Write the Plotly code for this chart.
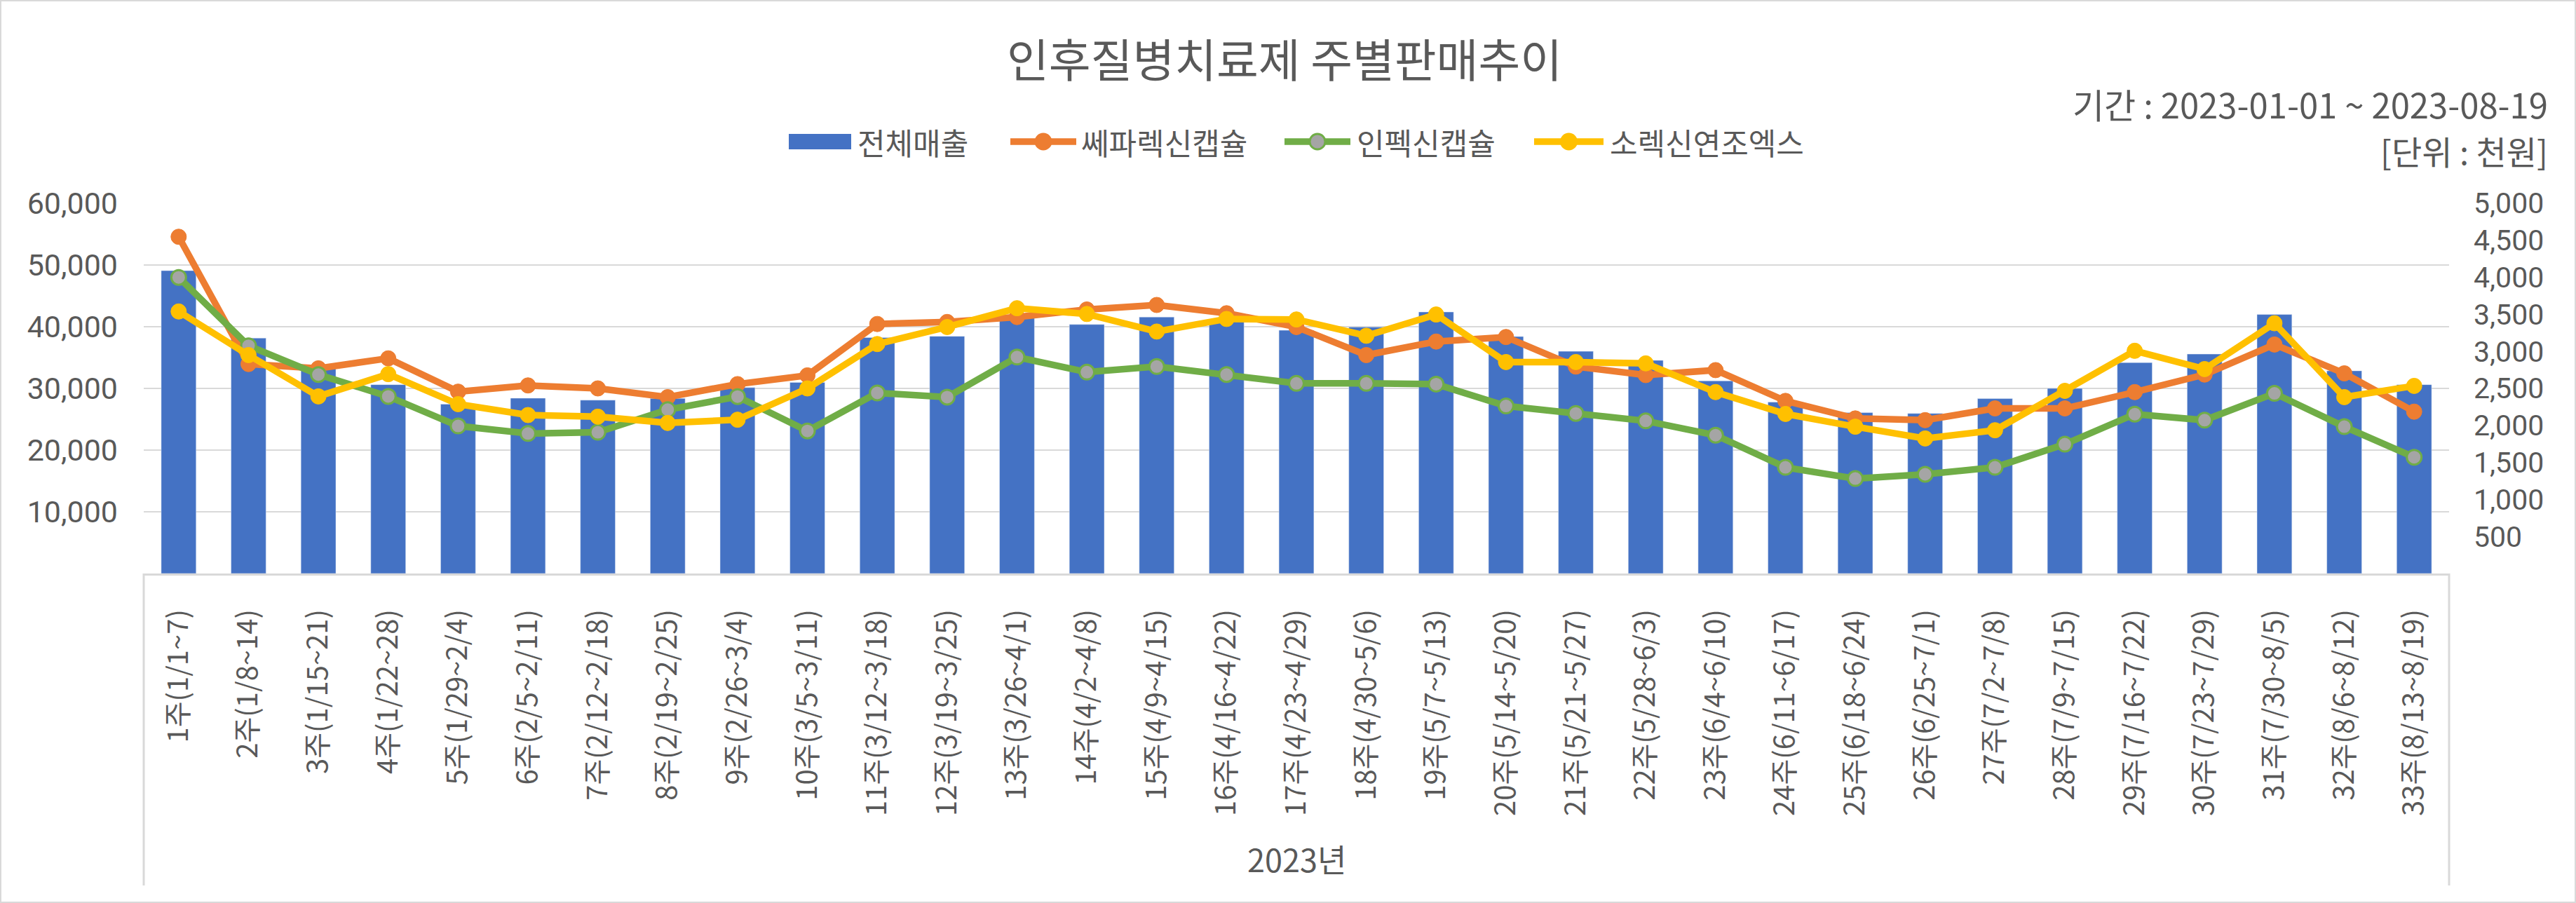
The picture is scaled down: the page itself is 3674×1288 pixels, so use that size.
import plotly.graph_objects as go

weeks = ["1주(1/1~7)", "2주(1/8~14)", "3주(1/15~21)", "4주(1/22~28)", "5주(1/29~2/4)",
         "6주(2/5~2/11)", "7주(2/12~2/18)", "8주(2/19~2/25)", "9주(2/26~3/4)", "10주(3/5~3/11)",
         "11주(3/12~3/18)", "12주(3/19~3/25)", "13주(3/26~4/1)", "14주(4/2~4/8)", "15주(4/9~4/15)",
         "16주(4/16~4/22)", "17주(4/23~4/29)", "18주(4/30~5/6)", "19주(5/7~5/13)", "20주(5/14~5/20)",
         "21주(5/21~5/27)", "22주(5/28~6/3)", "23주(6/4~6/10)", "24주(6/11~6/17)", "25주(6/18~6/24)",
         "26주(6/25~7/1)", "27주(7/2~7/8)", "28주(7/9~7/15)", "29주(7/16~7/22)", "30주(7/23~7/29)",
         "31주(7/30~8/5)", "32주(8/6~8/12)", "33주(8/13~8/19)"]

total_sales = [49090, 38160, 33170, 30610, 27450, 28420, 28100, 28380, 30130, 30980,
               38250, 38450, 41620, 40360, 41570, 41000, 39420, 39950, 42390, 38410,
               36010, 34550, 31220, 27770, 26070, 25940, 28340, 30000, 34190, 35570,
               41980, 32850, 30610]

cephalexin = [4548, 2829, 2771, 2906, 2456, 2540, 2500, 2382, 2558, 2676,
              3370, 3397, 3464, 3566, 3627, 3515, 3329, 2950, 3133, 3194,
              2795, 2680, 2747, 2331, 2094, 2071, 2230, 2230, 2450, 2687,
              3093, 2703, 2186]

infexin = [3999, 3076, 2687, 2392, 1993, 1891, 1908, 2213, 2389, 1925,
           2439, 2382, 2923, 2720, 2795, 2687, 2568, 2568, 2558, 2263,
           2162, 2061, 1868, 1434, 1282, 1340, 1434, 1746, 2152, 2071,
           2433, 1983, 1570]

sorexin = [3539, 2950, 2392, 2693, 2287, 2140, 2118, 2033, 2077, 2500,
           3099, 3329, 3583, 3505, 3268, 3438, 3431, 3211, 3498, 2856,
           2856, 2838, 2450, 2155, 1983, 1824, 1935, 2467, 3008, 2761,
           3380, 2382, 2534]

series_names = ["전체매출", "쎄파렉신캡슐", "인펙신캡슐", "소렉신연조엑스"]
left_ticks = [10000, 20000, 30000, 40000, 50000, 60000]
right_ticks = [500, 1000, 1500, 2000, 2500, 3000, 3500, 4000, 4500, 5000]

FONT = "Noto Sans CJK KR"
NUMFONT = "Roboto"
GRAY = "#595959"
GRID = "#D9D9D9"
BLUE, ORANGE, GREEN, YELLOW, MGRAY = "#4472C4", "#ED7D31", "#70AD47", "#FFC000", "#A5A5A5"

W, H = 3674, 1288
L, R, T, B = 205, 181, 290, 470
PW, PH = W - L - R, H - T - B


def px(xpix):
    return (xpix - L) / PW


def py(ypix):
    return (H - B - ypix) / PH


fig = go.Figure()
fig.add_trace(go.Bar(x=weeks, y=total_sales, name=series_names[0], marker_color=BLUE,
                     yaxis="y", showlegend=False))
fig.add_trace(go.Scatter(x=weeks, y=cephalexin, name=series_names[1], mode="lines+markers",
                         line=dict(color=ORANGE, width=9.5),
                         marker=dict(size=22, color=ORANGE, line=dict(color=ORANGE, width=1)),
                         yaxis="y2", showlegend=False))
fig.add_trace(go.Scatter(x=weeks, y=infexin, name=series_names[2], mode="lines+markers",
                         line=dict(color=GREEN, width=9.5),
                         marker=dict(size=21, color=MGRAY, line=dict(color=GREEN, width=3)),
                         yaxis="y2", showlegend=False))
fig.add_trace(go.Scatter(x=weeks, y=sorexin, name=series_names[3], mode="lines+markers",
                         line=dict(color=YELLOW, width=9.5),
                         marker=dict(size=22, color=YELLOW, line=dict(color=YELLOW, width=1)),
                         yaxis="y2", showlegend=False))

fig.update_layout(
    width=W, height=H,
    margin=dict(l=L, r=R, t=T, b=B, autoexpand=False),
    paper_bgcolor="white", plot_bgcolor="white",
    font=dict(family=FONT, color=GRAY, size=43),
    bargap=0.5,
    showlegend=False,
    title=dict(text="인후질병치료제 주별판매추이", x=1832 / W, xanchor="center",
               y=1 - 87 / H, yanchor="middle", font=dict(size=65, color=GRAY, family=FONT)),
    xaxis=dict(type="category", range=[-0.5, len(weeks) - 0.5], tickangle=-90,
               tickfont=dict(size=40, color=GRAY),
               showline=True, linecolor=GRID, linewidth=3, showgrid=False,
               ticks="", ticklabelstandoff=32, automargin=False),
    yaxis=dict(range=[0, 60000], tickvals=left_ticks, tickformat=",",
               showgrid=True, gridcolor=GRID, gridwidth=2, zeroline=False,
               tickfont=dict(size=43, color=GRAY, family=NUMFONT), ticks="",
               ticklabelstandoff=36, automargin=False),
    yaxis2=dict(range=[0, 5000], tickvals=right_ticks, tickformat=",", overlaying="y",
                side="right", showgrid=False, zeroline=False,
                tickfont=dict(size=41, color=GRAY, family=NUMFONT), ticks="",
                ticklabelstandoff=34, automargin=False),
)

fig.add_annotation(text="기간 : 2023-01-01 ~ 2023-08-19", xref="paper", yref="paper",
                   x=px(3636), y=py(147), xanchor="right", yanchor="middle",
                   showarrow=False, font=dict(size=49, color=GRAY, family=FONT))
fig.add_annotation(text="[단위 : 천원]", xref="paper", yref="paper",
                   x=px(3636), y=py(215), xanchor="right", yanchor="middle",
                   showarrow=False, font=dict(size=47, color=GRAY, family=FONT))
fig.add_annotation(text="2023년", xref="paper", yref="paper",
                   x=0.5, y=py(1224), xanchor="center", yanchor="middle",
                   showarrow=False, font=dict(size=45, color=GRAY, family=FONT))

# custom legend (Excel-like wide keys)
LEG_Y = py(202)
fig.add_shape(type="rect", xref="paper", yref="paper", x0=px(1125), x1=px(1214),
              y0=py(213), y1=py(191), line=dict(width=0), fillcolor=BLUE)
leg_lines = [(1441, 1535, ORANGE, ORANGE), (1832, 1926, GREEN, MGRAY), (2188, 2287, YELLOW, YELLOW)]
for x0, x1, lc, fc in leg_lines:
    fig.add_shape(type="line", xref="paper", yref="paper", x0=px(x0), x1=px(x1),
                  y0=LEG_Y, y1=LEG_Y, line=dict(color=lc, width=9.5))
    cx = (x0 + x1) / 2
    fig.add_shape(type="circle", xref="paper", yref="paper", x0=px(cx - 11), x1=px(cx + 11),
                  y0=py(202 + 11), y1=py(202 - 11), line=dict(color=lc, width=3), fillcolor=fc)
for name, xt in zip(series_names, [1221, 1540, 1933, 2294]):
    fig.add_annotation(text=name, xref="paper", yref="paper", x=px(xt), y=LEG_Y,
                       xanchor="left", yanchor="middle", showarrow=False,
                       font=dict(size=43, color=GRAY, family=FONT))

# category axis box
for xv in (0, 1):
    fig.add_shape(type="line", xref="paper", yref="paper", x0=xv, x1=xv,
                  y0=0, y1=py(1263), line=dict(color=GRID, width=3))
# chart border
fig.add_shape(type="rect", xref="paper", yref="paper",
              x0=px(1), x1=px(W - 1), y0=py(H - 1), y1=py(1),
              line=dict(color=GRID, width=2), fillcolor="rgba(0,0,0,0)")

fig.write_html("out.html", config={"displayModeBar": False},
               post_script="document.body.style.margin='0';document.body.style.overflow='hidden';")
